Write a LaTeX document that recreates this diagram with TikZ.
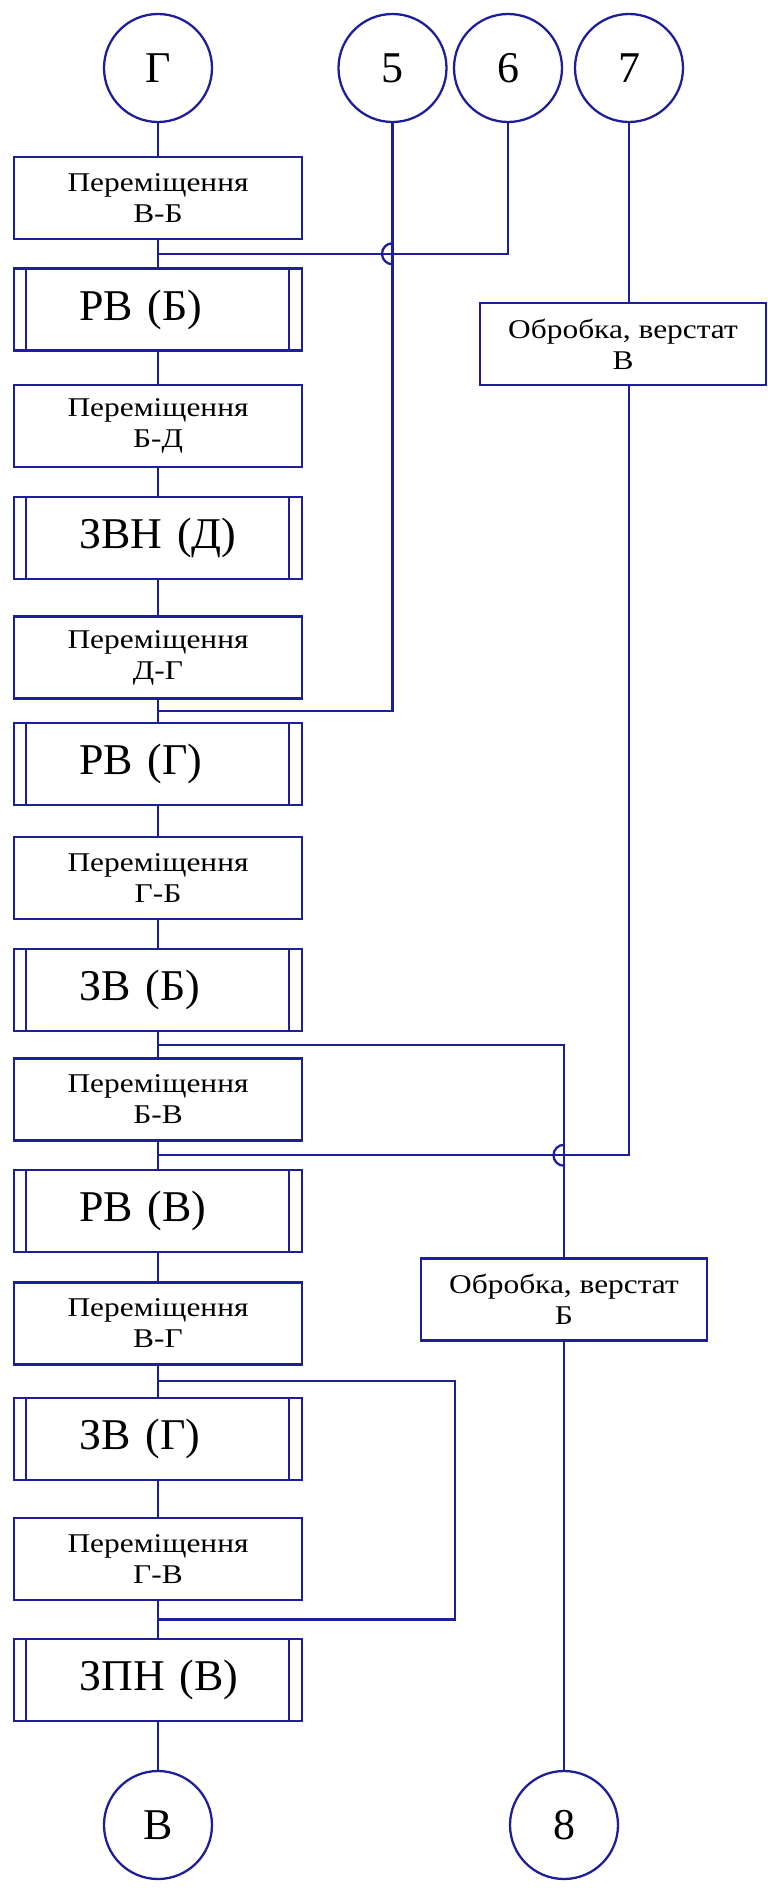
\documentclass[tikz,border=0pt]{standalone}
\usepackage{fontspec}
\setmainfont{Liberation Serif}
\newfontfamily\widefnt{Liberation Serif}[FakeStretch=1.16]
\usetikzlibrary{positioning,calc}
\definecolor{lnblue}{HTML}{1E1E9A}

\begin{document}
\begin{tikzpicture}[
  ln/.style={lnblue,line width=1.3pt},
  ring/.style={circle,draw=lnblue,line width=1.3pt,minimum size=2.16cm,
               inner sep=0pt,font=\fontsize{25}{29}\selectfont},
  mv/.style={rectangle,draw=lnblue,line width=1.4pt,minimum width=5.76cm,
             minimum height=1.64cm,align=center,inner sep=0pt,
             font=\widefnt\fontsize{15.4}{17.6}\selectfont},
  mach/.style={mv,minimum width=5.72cm},
  proc/.style={mv,font=\fontsize{25}{29}\selectfont,
               text width=4.4cm,inner xsep=0.68cm,align=left,
               execute at begin node={\hspace*{0.63cm}},
               path picture={
                 \draw[ln] ([xshift=0.24cm]path picture bounding box.north west)
                        -- ([xshift=0.24cm]path picture bounding box.south west);
                 \draw[ln] ([xshift=-0.26cm]path picture bounding box.north east)
                        -- ([xshift=-0.26cm]path picture bounding box.south east);}}
]
\useasboundingbox (0,0) rectangle (15.36,-37.76);

% ---- Top circles ----------------------------------------------
\node[ring] (cG) at (3.16,-1.36)  {Г};
\node[ring] (c5) at (7.85,-1.36)  {5};
\node[ring] (c6) at (10.16,-1.36) {6};
\node[ring] (c7) at (12.58,-1.36) {7};

% ---- Main column ----------------------------------------------
\node[mv]   (m1)  at (3.16,-3.96)  {Переміщення\\В-Б};
\node[proc] (m2)  at (3.16,-6.19)  {РВ (Б)};
\node[mv]   (m3)  at (3.16,-8.52)  {Переміщення\\Б-Д};
\node[proc] (m4)  at (3.16,-10.76) {ЗВН (Д)};
\node[mv]   (m5)  at (3.16,-13.15) {Переміщення\\Д-Г};
\node[proc] (m6)  at (3.16,-15.28) {РВ (Г)};
\node[mv]   (m7)  at (3.16,-17.56) {Переміщення\\Г-Б};
\node[proc] (m8)  at (3.16,-19.80) {ЗВ (Б)};
\node[mv]   (m9)  at (3.16,-21.99) {Переміщення\\Б-В};
\node[proc] (m10) at (3.16,-24.22) {РВ (В)};
\node[mv]   (m11) at (3.16,-26.47) {Переміщення\\В-Г};
\node[proc] (m12) at (3.16,-28.78) {ЗВ (Г)};
\node[mv]   (m13) at (3.16,-31.18) {Переміщення\\Г-В};
\node[proc] (m14) at (3.16,-33.60) {ЗПН (В)};

% ---- Machines ---------------------------------------------------
\node[mach] (obV) at (12.46,-6.88)  {Обробка, верстат\\В};
\node[mach] (obB) at (11.28,-25.99) {Обробка, верстат\\Б};

% ---- Bottom circles ---------------------------------------------
\node[ring] (cV) at (3.16,-36.50)  {В};
\node[ring] (c8) at (11.28,-36.50) {8};

% Junctions on the main line
\coordinate (j1)  at ($(m1.south)!0.5!(m2.north)$);
\coordinate (j5)  at ($(m5.south)!0.5!(m6.north)$);
\coordinate (j8)  at ($(m8.south)!0.5!(m9.north)$);
\coordinate (j9)  at ($(m9.south)!0.5!(m10.north)$);
\coordinate (j11) at ($(m11.south)!0.5!(m12.north)$);
\coordinate (j13) at ($(m13.south)!0.5!(m14.north)$);

% Main line
\draw[ln] (cG) -- (m1) (m1) -- (m2) (m2) -- (m3) (m3) -- (m4)
          (m4) -- (m5) (m5) -- (m6) (m6) -- (m7) (m7) -- (m8)
          (m8) -- (m9) (m9) -- (m10) (m10) -- (m11) (m11) -- (m12)
          (m12) -- (m13) (m13) -- (m14) (m14) -- (cV);

% Side lines
\draw[ln] (c6) |- (j1);
\draw[ln] (c5) |- (j5);
\draw[ln] (c7) -- (c7 |- obV.north);
\draw[ln] (c7 |- obV.south) |- (j9);
\draw[ln] (j8) -| (obB);
\draw[ln] (obB) -- (c8);
\draw[ln] (j11) -- ++(5.94,0) |- (j13);

% Crossing hops
\coordinate (x1) at (c5 |- j1);
\coordinate (x2) at (obB |- j9);
\draw[ln] ([yshift=0.21cm]x1) arc (90:270:0.21cm);
\draw[ln] ([yshift=0.21cm]x2) arc (90:270:0.21cm);

\end{tikzpicture}
\end{document}
